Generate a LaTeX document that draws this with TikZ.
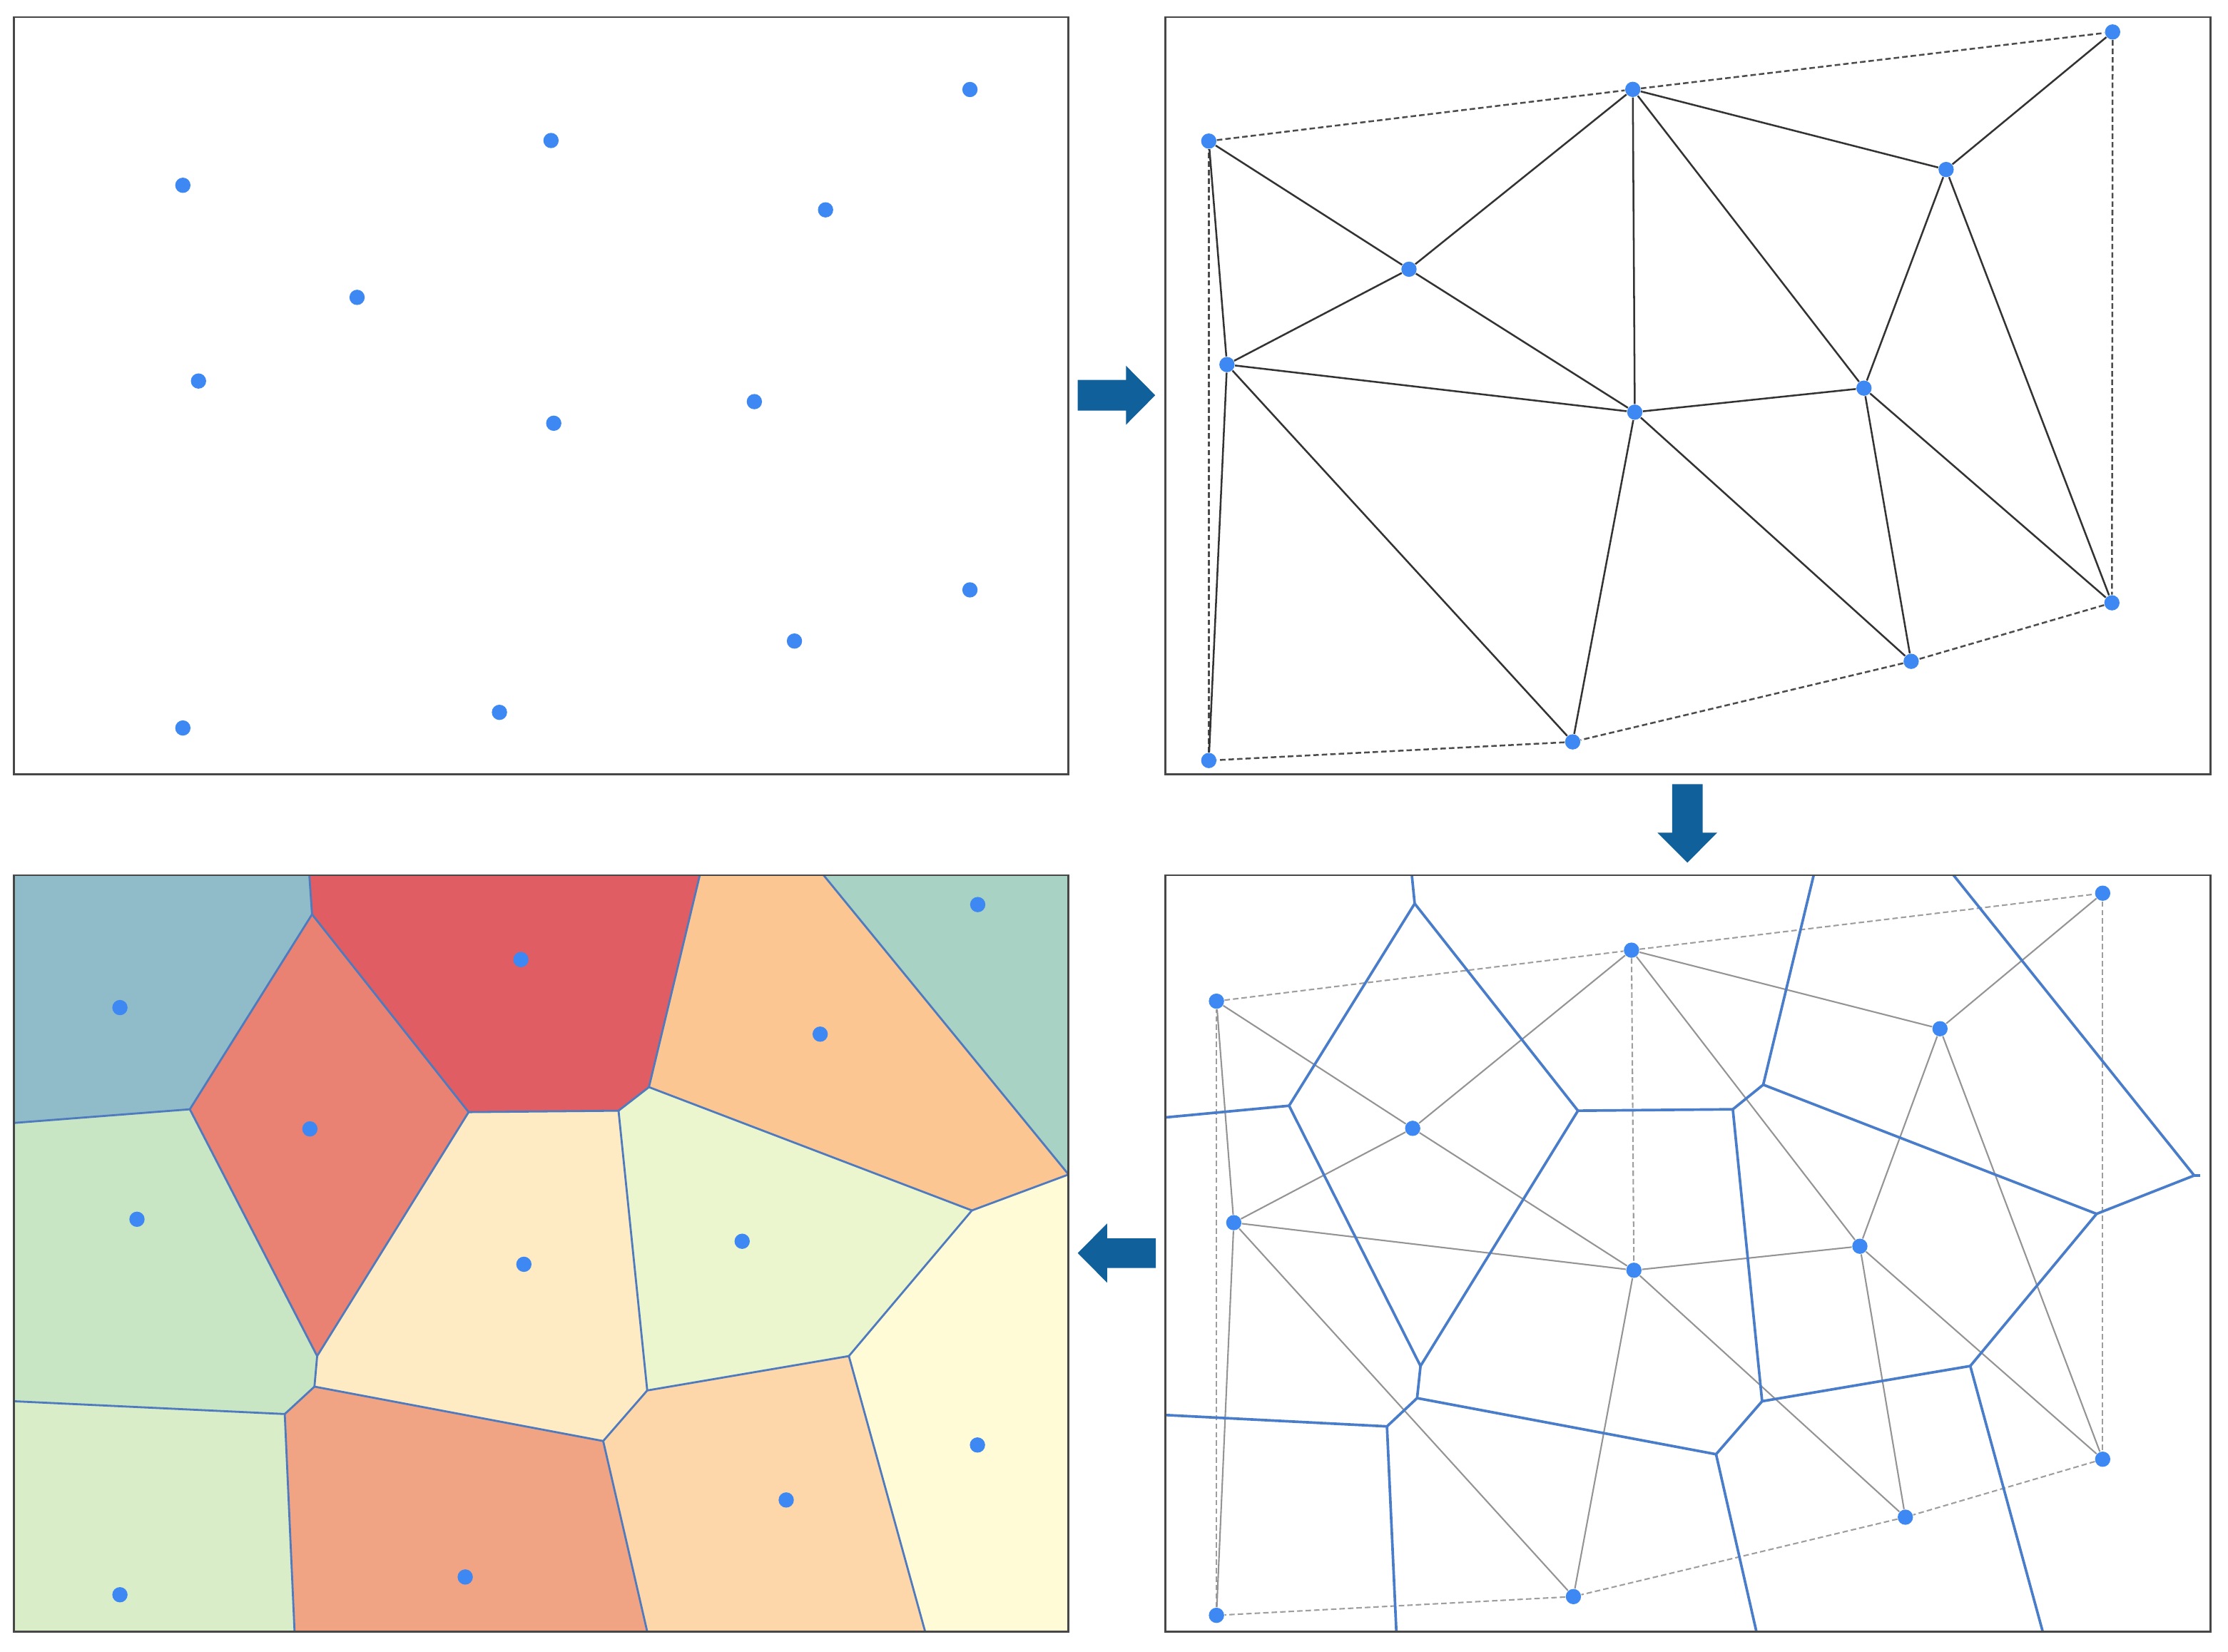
\documentclass[tikz,border=0pt]{standalone}
\usepackage{xcolor}
\definecolor{dotc}{HTML}{3D88F2}
\definecolor{arrc}{HTML}{10609C}
\definecolor{vorc}{HTML}{4A7DC9}
\definecolor{cellc}{HTML}{4F7BBE}
\definecolor{cA}{HTML}{8FBCC8}
\definecolor{cB}{HTML}{E98273}
\definecolor{cC}{HTML}{E05D63}
\definecolor{cD}{HTML}{FCC692}
\definecolor{cE}{HTML}{A8D2C4}
\definecolor{cF}{HTML}{C8E5C4}
\definecolor{cG}{HTML}{FFEBC3}
\definecolor{cH}{HTML}{EBF5CE}
\definecolor{cI}{HTML}{FFFBD7}
\definecolor{cJ}{HTML}{D9EDC8}
\definecolor{cK}{HTML}{F0A484}
\definecolor{cL}{HTML}{FDD6A9}
\tikzset{
  panel/.style={draw=black!72, line width=0.8pt},
  dot/.style={circle, fill=dotc, draw=none, inner sep=0pt, minimum size=0.215cm},
  tri/.style={draw=black!80, line width=0.72pt},
  hull/.style={draw=black!70, line width=0.72pt, dash pattern=on 2.2pt off 1.2pt},
  gtri/.style={draw=black!42, line width=0.6pt},
  ghull/.style={draw=black!38, line width=0.6pt, dash pattern=on 2.2pt off 1.2pt},
  vor/.style={draw=vorc, line width=1.05pt},
  cell/.style={draw=cellc, line width=0.8pt, line join=round},
  bigarrow/.style={fill=arrc, draw=none}
}
\begin{document}
\begin{tikzpicture}[x=0.02cm, y=-0.02cm]
\useasboundingbox (0,0) rectangle (1568,1162.8);

% ---------------- Top-left: points ----------------
\node[dot] (tl1) at (128.7,130.4) {};
\node[dot] (tl2) at (387.8,98.9) {};
\node[dot] (tl3) at (682.6,63.0) {};
\node[dot] (tl4) at (581.0,147.7) {};
\node[dot] (tl5) at (251.3,209.3) {};
\node[dot] (tl6) at (139.7,268.2) {};
\node[dot] (tl7) at (389.7,297.9) {};
\node[dot] (tl8) at (530.9,282.7) {};
\node[dot] (tl9) at (682.6,415.2) {};
\node[dot] (tl10) at (559.1,451.2) {};
\node[dot] (tl11) at (351.5,501.4) {};
\node[dot] (tl12) at (128.7,512.4) {};
\draw[panel] (9.9,12) rectangle (752,545);

% ---------------- Top-right: triangulation ----------------
\node[dot] (t1) at (850.7,99.3) {};
\node[dot] (t2) at (1149.1,62.9) {};
\node[dot] (t3) at (1486.8,22.5) {};
\node[dot] (t4) at (1369.6,119.3) {};
\node[dot] (t5) at (991.6,189.5) {};
\node[dot] (t6) at (863.5,256.6) {};
\node[dot] (t7) at (1150.5,290.1) {};
\node[dot] (t8) at (1311.8,273.2) {};
\node[dot] (t9) at (1486.3,424.3) {};
\node[dot] (t10) at (1345,465.5) {};
\node[dot] (t11) at (1106.8,522.2) {};
\node[dot] (t12) at (850.7,535.3) {};
\foreach \a/\b in {1/2,2/3,3/9,9/10,10/11,11/12,12/1}
  \draw[hull] (t\a) -- (t\b);
\foreach \a/\b in {1/5,1/6,5/2,5/6,5/7,6/7,6/11,6/12,7/11,7/8,7/10,2/4,2/8,4/3,4/8,4/9,8/9,8/10,2/7}
  \draw[tri] (t\a) -- (t\b);
\draw[panel] (820,12) rectangle (1555.5,545);

% ---------------- Bottom-right: triangulation + Voronoi ----------------
\node[dot] (b1) at (856.1,704.7) {};
\node[dot] (b2) at (1148.2,668.8) {};
\node[dot] (b3) at (1479.8,628.7) {};
\node[dot] (b4) at (1365.3,724.1) {};
\node[dot] (b5) at (994.2,794.2) {};
\node[dot] (b6) at (868.3,860.6) {};
\node[dot] (b7) at (1149.9,894.1) {};
\node[dot] (b8) at (1308.9,877.2) {};
\node[dot] (b9) at (1479.8,1027.1) {};
\node[dot] (b10) at (1340.9,1067.9) {};
\node[dot] (b11) at (1107.3,1123.8) {};
\node[dot] (b12) at (856.1,1137) {};
\foreach \a/\b in {1/2,2/3,3/9,9/10,10/11,11/12,12/1,2/7}
  \draw[ghull] (b\a) -- (b\b);
\foreach \a/\b in {1/5,1/6,5/2,5/6,5/7,6/7,6/11,6/12,7/11,7/8,7/10,2/4,2/8,4/3,4/8,4/9,8/9,8/10}
  \draw[gtri] (b\a) -- (b\b);

\coordinate (vA) at (995.6,636.0);
\coordinate (vAt) at (993.6,616);
\coordinate (vB) at (907.2,778.3);
\coordinate (vBl) at (820.3,786.5);
\coordinate (vC) at (1110.5,781.8);
\coordinate (vD) at (999.7,961.5);
\coordinate (vE) at (997.3,984.1);
\coordinate (vF) at (976.1,1004);
\coordinate (vFl) at (820.3,996);
\coordinate (vFb) at (982.7,1148.5);
\coordinate (vG) at (1240.9,763.5);
\coordinate (vGt) at (1276.4,616);
\coordinate (vH) at (1219.5,780.8);
\coordinate (vI) at (1240.1,986.3);
\coordinate (vJ) at (1475.5,854.4);
\coordinate (vK) at (1544.2,827.4);
\coordinate (vKs) at (1548.5,827.4);
\coordinate (vKt) at (1374.8,616);
\coordinate (vL) at (1386.6,961.5);
\coordinate (vLb) at (1437.6,1148.5);
\coordinate (vM) at (1207.7,1023.6);
\coordinate (vMb) at (1236.1,1148.5);
\foreach \a/\b in {A/At,A/B,B/Bl,B/D,A/C,C/D,D/E,E/F,F/Fl,F/Fb,E/M,M/Mb,M/I,I/H,H/C,H/G,G/Gt,G/J,J/K,K/Ks,K/Kt,J/L,L/I,L/Lb}
  \draw[vor, line join=round] (v\a) -- (v\b);
\draw[panel] (820,616) rectangle (1555.5,1148.5);

% ---------------- Bottom-left: coloured Voronoi cells ----------------
\coordinate (c1) at (9.9,616);
\coordinate (c2) at (752,616);
\coordinate (c3) at (752,1148.5);
\coordinate (c4) at (9.9,1148.5);
\coordinate (V1) at (217.7,616);
\coordinate (V2) at (219.6,643.6);
\coordinate (V3) at (133.6,780.8);
\coordinate (V4) at (9.9,790.4);
\coordinate (V5) at (329.8,782.8);
\coordinate (V6) at (223.2,954.5);
\coordinate (V7) at (221.3,976);
\coordinate (V8) at (200.4,995.3);
\coordinate (V9) at (9.9,986.3);
\coordinate (V10) at (207.3,1148.5);
\coordinate (W1) at (492.5,616);
\coordinate (W2) at (456.7,765.2);
\coordinate (W3) at (435.3,781.8);
\coordinate (W4) at (579.6,616);
\coordinate (W5) at (752,826.7);
\coordinate (W6) at (684,852);
\coordinate (W7) at (597.4,954.5);
\coordinate (W8) at (455.5,978.7);
\coordinate (W9) at (424.5,1014.3);
\coordinate (W10) at (455.5,1148.5);
\coordinate (W11) at (651.1,1148.5);

\fill[cA] (c1) -- (V1) -- (V2) -- (V3) -- (V4) -- cycle;
\fill[cB] (V2) -- (V5) -- (V6) -- (V3) -- cycle;
\fill[cC] (V1) -- (W1) -- (W2) -- (W3) -- (V5) -- (V2) -- cycle;
\fill[cD] (W1) -- (W4) -- (W5) -- (W6) -- (W2) -- cycle;
\fill[cE] (W4) -- (c2) -- (W5) -- cycle;
\fill[cF] (V4) -- (V3) -- (V6) -- (V7) -- (V8) -- (V9) -- cycle;
\fill[cG] (V5) -- (W3) -- (W8) -- (W9) -- (V7) -- (V6) -- cycle;
\fill[cH] (W2) -- (W6) -- (W7) -- (W8) -- (W3) -- cycle;
\fill[cI] (W5) -- (c3) -- (W11) -- (W7) -- (W6) -- cycle;
\fill[cJ] (V9) -- (V8) -- (V10) -- (c4) -- cycle;
\fill[cK] (V8) -- (V7) -- (W9) -- (W10) -- (V10) -- cycle;
\fill[cL] (W9) -- (W8) -- (W7) -- (W11) -- (W10) -- cycle;
\foreach \a/\b in {V1/V2,V2/V3,V3/V4,V2/V5,V3/V6,V5/V6,V6/V7,V7/V8,V8/V9,V8/V10,V7/W9,V5/W3,W3/W2,W2/W1,W2/W6,W4/W5,W5/W6,W6/W7,W7/W8,W8/W3,W8/W9,W9/W10,W7/W11}
  \draw[cell] (\a) -- (\b);

\node[dot] (bl1) at (84.4,709.2) {};
\node[dot] (bl2) at (218.1,794.6) {};
\node[dot] (bl3) at (366.6,675.4) {};
\node[dot] (bl4) at (96.4,858.2) {};
\node[dot] (bl5) at (368.7,889.9) {};
\node[dot] (bl6) at (84.4,1122.5) {};
\node[dot] (bl7) at (327.4,1110) {};
\node[dot] (bl8) at (688.1,636.7) {};
\node[dot] (bl9) at (577.2,727.9) {};
\node[dot] (bl10) at (522.3,873.7) {};
\node[dot] (bl11) at (687.9,1017.1) {};
\node[dot] (bl12) at (553.3,1055.8) {};
\draw[panel] (9.9,616) rectangle (752,1148.5);

% ---------------- Arrows ----------------
\fill[bigarrow] (758.5,267.4) -- (792.4,267.4) -- (792.4,257.4) -- (813,278.2)
  -- (792.4,299.0) -- (792.4,289.0) -- (758.5,289.0) -- cycle;
\fill[bigarrow] (1176.8,552) -- (1198.2,552) -- (1198.2,586.1) -- (1208.5,586.1)
  -- (1187.5,607.2) -- (1166.5,586.1) -- (1176.8,586.1) -- cycle;
\fill[bigarrow] (813.4,871.6) -- (779.1,871.6) -- (779.1,861.2) -- (758.5,882)
  -- (779.1,902.8) -- (779.1,892.5) -- (813.4,892.5) -- cycle;
\end{tikzpicture}
\end{document}
